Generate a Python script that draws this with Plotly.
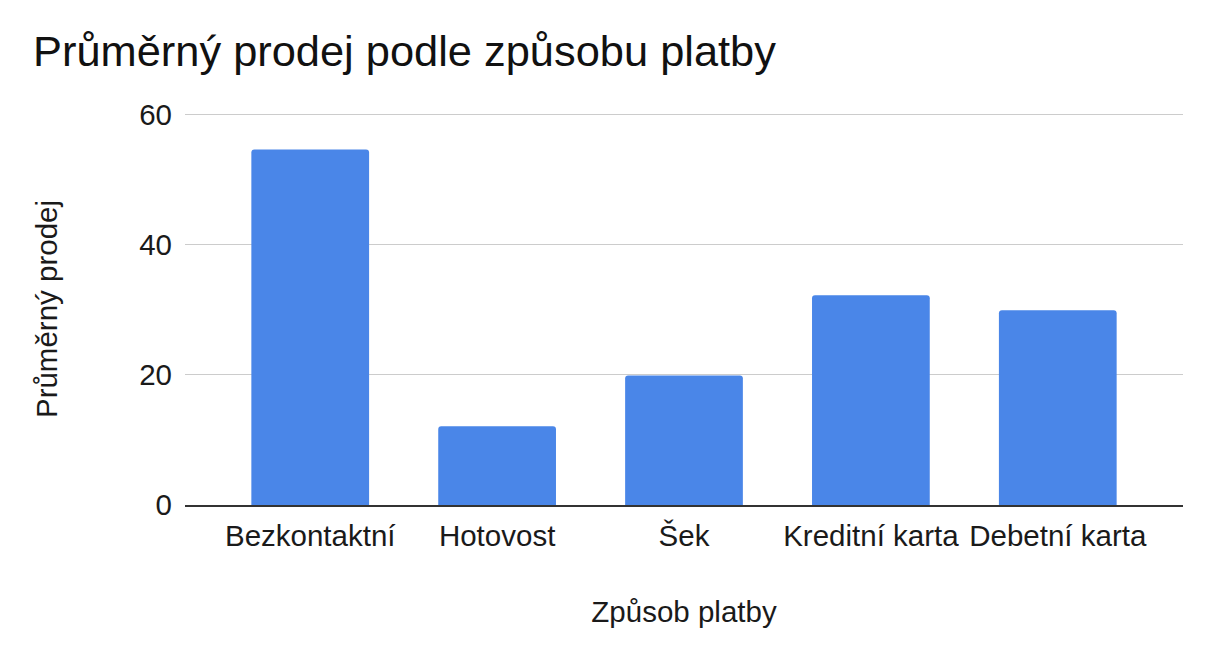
import plotly.graph_objects as go

categories = ["Bezkontaktní", "Hotovost", "Šek", "Kreditní karta", "Debetní karta"]
avg_sales = [54.6, 12.1, 19.9, 32.2, 29.9]
y_ticks = [0, 20, 40, 60]

fig = go.Figure()
fig.add_trace(go.Bar(
    x=categories,
    y=avg_sales,
    marker=dict(color="#4a86e8", line=dict(width=0)),
))

fig.update_layout(
    width=1214,
    height=662,
    paper_bgcolor="white",
    plot_bgcolor="white",
    font=dict(family="Liberation Sans, Arial, sans-serif", color="#222222"),
    margin=dict(l=185, r=31, t=113, b=157, autoexpand=False),
    title=dict(
        text="Průměrný prodej podle způsobu platby",
        font=dict(size=43.4, color="#111111"),
        x=33 / 1214, xref="container", xanchor="left",
        y=1 - 51 / 662, yref="container", yanchor="middle",
    ),
    bargap=0.37,
    barcornerradius=3,
    showlegend=False,
)

fig.update_xaxes(
    range=[-0.67, 4.67],
    showgrid=False,
    showline=True, linecolor="#333333", linewidth=1.5,
    ticks="", tickfont=dict(size=29.5, color="#1a1a1a"),
    ticklabelstandoff=4,
    title=dict(text="Způsob platby", font=dict(size=29.5, color="#1a1a1a"), standoff=50),
    automargin=False,
)
fig.update_yaxes(
    range=[0, 60.2],
    tickvals=y_ticks,
    showgrid=True, gridcolor="#cccccc", gridwidth=1,
    zeroline=False,
    showline=False,
    ticks="", tickfont=dict(size=29.5, color="#1a1a1a"),
    ticklabelstandoff=12,
    title=dict(text="Průměrný prodej", font=dict(size=29.5, color="#1a1a1a"), standoff=72),
    automargin=False,
)

fig.write_html("out.html")
